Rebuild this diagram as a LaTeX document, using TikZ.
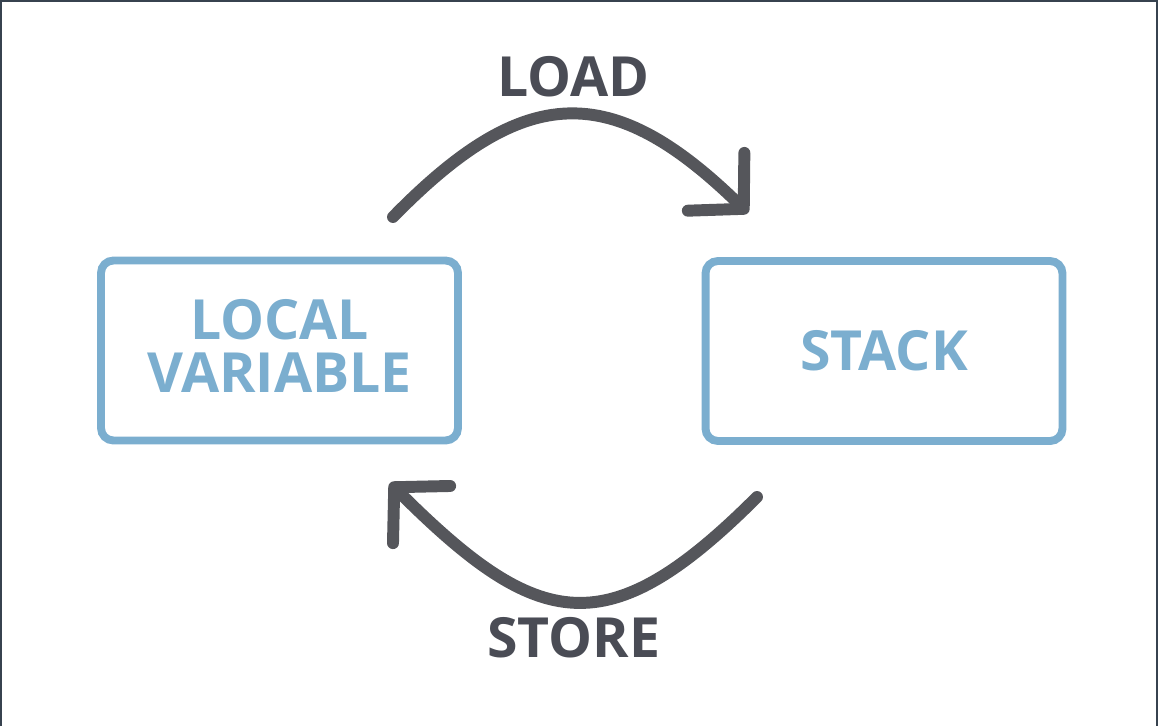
\documentclass[tikz,border=0pt]{standalone}
\usepackage{fontspec}
\setmainfont{Open Sans}
\usetikzlibrary{arrows.meta, positioning}
\definecolor{frameline}{HTML}{37424F}
\definecolor{boxblue}{HTML}{7BAECF}
\definecolor{arrowgray}{HTML}{55565B}
\definecolor{labelgray}{HTML}{4A4C55}
\tikzset{>={Straight Barb[length=22pt, width=46pt, round]}}
\tikzset{
  memory/.style={draw=boxblue, line width=4.5pt, rounded corners=7pt,
    minimum width=7.14cm, minimum height=3.6cm, text=boxblue,
    font=\bfseries\fontsize{31.5}{30.2}\selectfont, align=center},
  flow/.style={arrowgray, line width=6.8pt, line cap=round, ->},
  oplabel/.style={text=labelgray, font=\bfseries\fontsize{31.5}{30.2}\selectfont,
    anchor=base, inner sep=0pt}
}
\begin{document}
\begin{tikzpicture}[x=0.02cm, y=-0.02cm]
\useasboundingbox (0,0) rectangle (1158,726);
\draw[frameline, line width=0.04cm] (1,726) -- (1,1) -- (1157,1) -- (1157,726);
\node[memory, text depth=5pt] (local) at (279.5,350.5) {LOCAL\\VARIABLE};
\node[memory] (stack) at (884,351) {STACK};
\coordinate (loadfrom) at (393,217);
\coordinate (loadto) at (748,213);
\coordinate (storefrom) at (757,497);
\coordinate (storeto) at (390,483);
\draw[flow] (loadfrom) .. controls (525,82) and (612,80) .. (loadto);
\draw[flow] (storefrom) .. controls (608,646) and (539,632) .. (storeto);
\node[oplabel] (load) at (573.5,97) {LOAD};
\node[oplabel] (store) at (573.5,657) {STORE};
\end{tikzpicture}
\end{document}
